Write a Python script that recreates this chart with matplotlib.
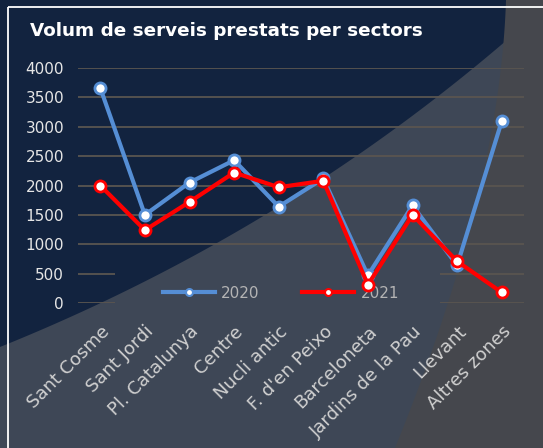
import numpy as np
import matplotlib
matplotlib.use("Agg")
import matplotlib.pyplot as plt
from matplotlib.patches import Polygon, Rectangle
from matplotlib.lines import Line2D

# data
sectors = ["Sant Cosme", "Sant Jordi", "Pl. Catalunya", "Centre", "Nucli antic",
           "F. d'en Peixo", "Barceloneta", "Jardins de la Pau", "Llevant", "Altres zones"]
serveis_2020 = [3660, 1500, 2050, 2430, 1640, 2120, 470, 1660, 640, 3090]
serveis_2021 = [2000, 1240, 1720, 2220, 1970, 2080, 310, 1500, 710, 180]
y_ticks = [0, 500, 1000, 1500, 2000, 2500, 3000, 3500, 4000]

NAVY = "#12233f"
GRAY1 = "#3e4756"
GRAY2 = "#45474d"
BLUE = "#558ed5"
RED = "#ff0000"
GRID = "#5a5550"

W, H = 543, 448
fig = plt.figure(figsize=(W / 100, H / 100), dpi=100)
fig.patch.set_facecolor(NAVY)


def bezier(a, b, c, n=80):
    t = np.linspace(0, 1, n)[:, None]
    return (1 - t) ** 2 * np.array(a) + 2 * (1 - t) * t * np.array(b) + t ** 2 * np.array(c)


# background shapes, pixel coords
bg = fig.add_axes([0, 0, 1, 1], zorder=0)
bg.set_xlim(0, W)
bg.set_ylim(H, 0)
bg.axis("off")

curve = bezier((0, 347), (310, 222), (552, 0))
bg.add_patch(Polygon(np.vstack([curve, [[W, 0], [W, H], [0, H]]]),
                     facecolor=GRAY1, edgecolor="none"))
curve2 = bezier((506, 0), (500, 190), (395, H))
bg.add_patch(Polygon(np.vstack([curve2, [[W, H], [W, 0]]]),
                     facecolor=GRAY2, edgecolor="none"))
bg.add_patch(Rectangle((8, 7), W, H, facecolor="none", edgecolor="white", lw=1.3))

# main chart
left_px, right_px, top_px, bot_px = 78, 524, 68, 303
ax = fig.add_axes([left_px / W, 1 - bot_px / H, (right_px - left_px) / W, (bot_px - top_px) / H],
                  zorder=2)
ax.patch.set_alpha(0)
ax.set_xlim(-0.5, 9.5)
ax.set_ylim(0, 4000)
step = (right_px - left_px) / 10

gap_l = -0.5 + (115 - left_px) / step
gap_r = -0.5 + (440 - left_px) / step
for yv in y_ticks:
    if yv in (0, 500):
        ax.hlines(yv, -0.5, gap_l, color=GRID, lw=1.3, zorder=1)
        ax.hlines(yv, gap_r, 9.5, color=GRID, lw=1.3, zorder=1)
    else:
        ax.hlines(yv, -0.5, 9.5, color=GRID, lw=1.3, zorder=1)

xs = np.arange(len(sectors))
ax.plot(xs, serveis_2020, color=BLUE, lw=3, marker="o", ms=8, mfc="white", mec=BLUE,
        mew=2, clip_on=False, zorder=3)
ax.plot(xs, serveis_2021, color=RED, lw=3, marker="o", ms=8, mfc="white", mec=RED,
        mew=2, clip_on=False, zorder=4)

for s in ax.spines.values():
    s.set_visible(False)
ax.set_yticks(y_ticks)
ax.set_yticklabels([str(v) for v in y_ticks], color="#e6e6e6", fontsize=11)
ax.set_xticks(xs)
ax.set_xticklabels(sectors, color="#d0d0d0", fontsize=13, rotation=45,
                   ha="right", va="top", rotation_mode="anchor")
ax.tick_params(axis="both", length=0)
ax.tick_params(axis="y", pad=10)
ax.tick_params(axis="x", pad=14)

handles = [
    Line2D([], [], color=BLUE, lw=3, marker="o", ms=5, mfc="white", mec=BLUE, mew=1.5),
    Line2D([], [], color=RED, lw=3, marker="o", ms=5, mfc="white", mec=RED, mew=1.5),
]
leg = ax.legend(handles, ["2020", "2021"], ncol=2, frameon=False, fontsize=11,
                labelcolor="#b4b4b4", handlelength=3.4, columnspacing=2.8,
                handletextpad=0.4, loc="center", bbox_to_anchor=(281 / W, 1 - 293 / H),
                bbox_transform=fig.transFigure)
leg.set_zorder(2)

fig.text(30 / W, 1 - 36 / H, "Volum de serveis prestats per sectors", color="white",
         fontsize=13.2, fontweight="bold", ha="left", va="baseline")

fig.savefig("out.png", dpi=100, facecolor=fig.get_facecolor())
